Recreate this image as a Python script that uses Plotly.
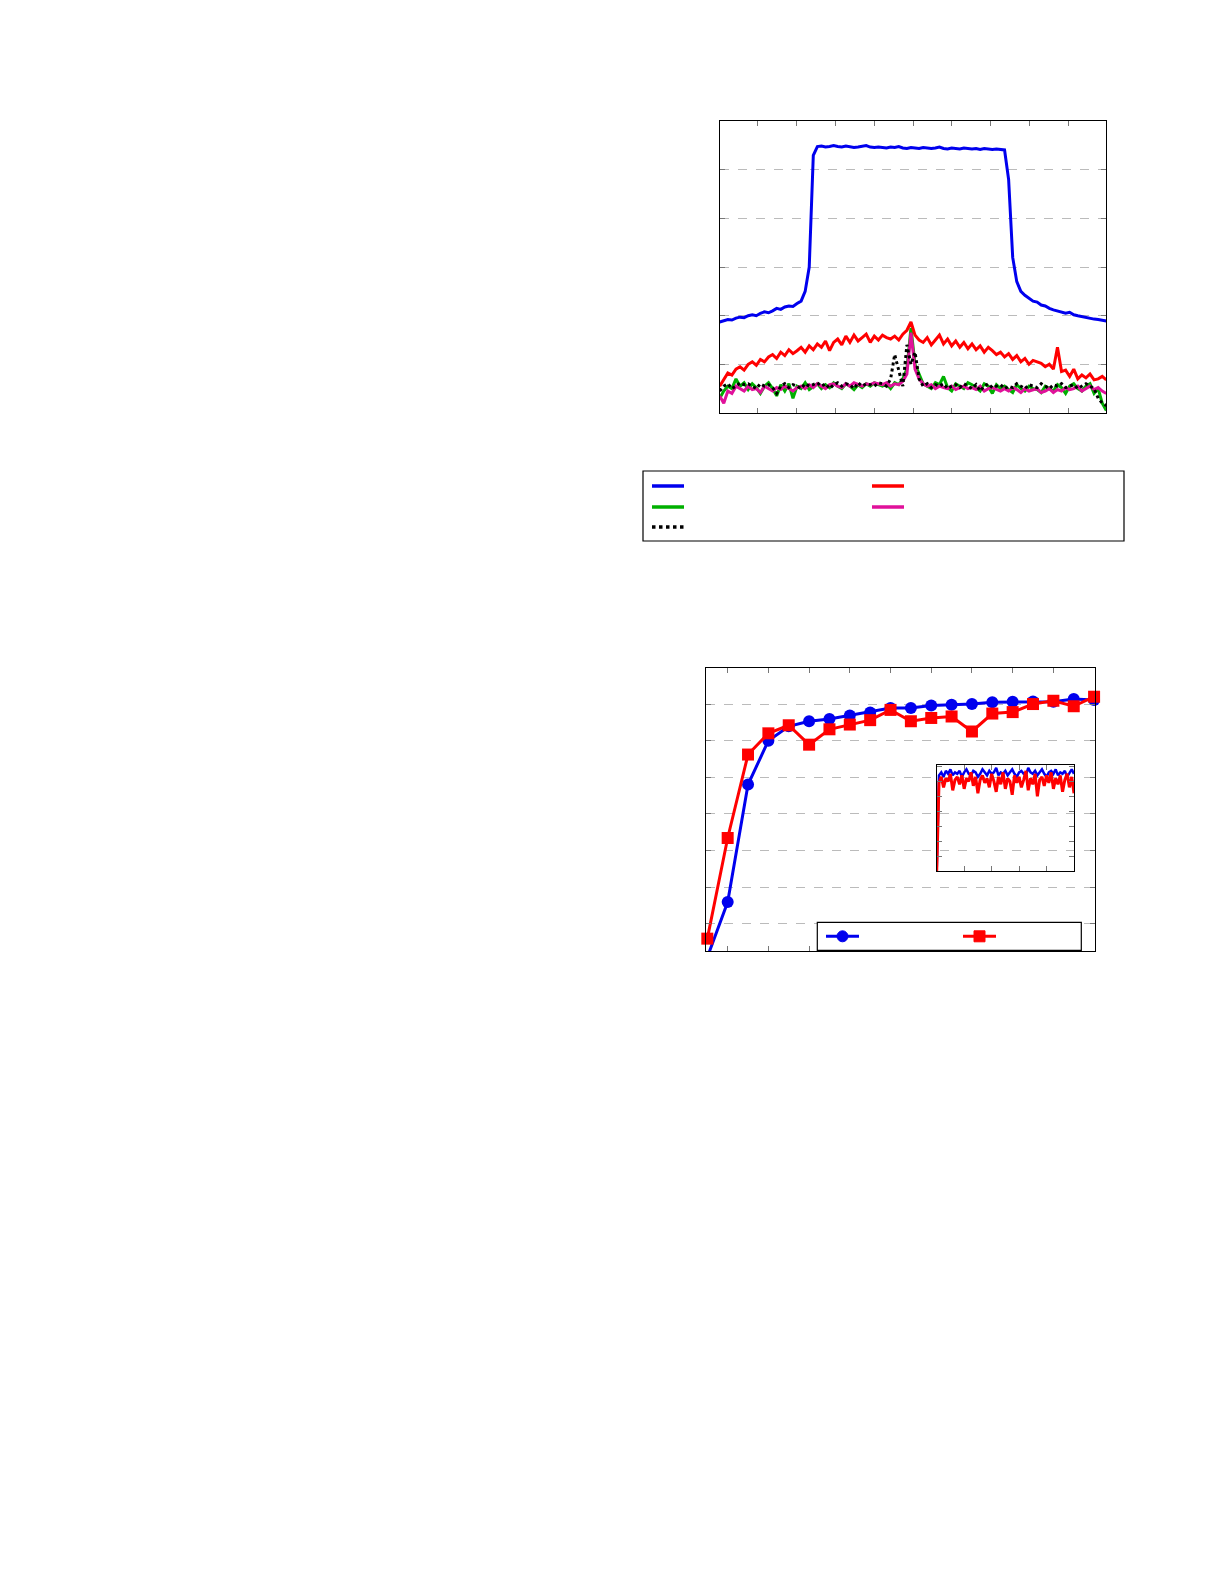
import plotly.graph_objects as go

W, H = 1225, 1585

# ---- top panel: spectrum-like curves (index 0..95) ----
blue = [1.87, 1.9, 1.92, 1.91, 1.95, 1.97, 1.96, 2.0, 2.02, 2.0, 2.05, 2.08, 2.06, 2.1, 2.15, 2.13,
        2.18, 2.2, 2.19, 2.25, 2.3, 2.5, 3.0,
        5.3,
        5.48, 5.49, 5.47, 5.48, 5.5, 5.48, 5.47, 5.49, 5.48, 5.46,
        5.47, 5.48, 5.5, 5.47, 5.46, 5.47, 5.46, 5.45, 5.47, 5.46,
        5.48, 5.45, 5.44, 5.46, 5.45, 5.44, 5.46, 5.45, 5.44, 5.45,
        5.47, 5.44, 5.43, 5.45, 5.44, 5.43, 5.45, 5.44, 5.43, 5.44,
        5.42, 5.44, 5.43, 5.42, 5.43, 5.42, 5.41,
        4.8, 3.2, 2.7, 2.5,
        2.42, 2.35, 2.3, 2.28, 2.22, 2.2, 2.15, 2.12, 2.1, 2.08, 2.05, 2.07, 2.02, 2.0, 1.98,
        1.96, 1.95, 1.93, 1.92, 1.91, 1.89]
red = [0.55, 0.7, 0.82, 0.78, 0.9, 0.95, 0.88, 1.0, 1.05, 0.98,
       1.1, 1.05, 1.15, 1.2, 1.12, 1.25, 1.18, 1.3, 1.22, 1.28,
       1.35, 1.25, 1.38, 1.3, 1.42, 1.35, 1.48, 1.28, 1.45, 1.52,
       1.4, 1.58, 1.45, 1.6, 1.48, 1.55, 1.62, 1.45, 1.58, 1.5,
       1.6, 1.55, 1.52, 1.58, 1.5, 1.62, 1.7, 1.87, 1.6, 1.5,
       1.45, 1.55, 1.4, 1.5, 1.6, 1.42, 1.52, 1.38, 1.48, 1.35,
       1.45, 1.32, 1.42, 1.3, 1.38, 1.25, 1.35, 1.28, 1.2, 1.25,
       1.15, 1.22, 1.1, 1.18, 1.05, 1.12, 1.0, 1.08, 1.05, 1.02,
       0.95, 1.0, 0.9, 1.35, 0.85, 0.88, 0.75, 0.9, 0.7, 0.78,
       0.72, 0.8, 0.68, 0.7, 0.75, 0.68]
green = [0.3, 0.45, 0.55, 0.5, 0.7, 0.55, 0.62, 0.48, 0.6, 0.52,
         0.4, 0.55, 0.62, 0.5, 0.35, 0.58, 0.45, 0.6, 0.3, 0.55,
         0.5, 0.62, 0.48, 0.55, 0.6, 0.5, 0.58, 0.52, 0.62, 0.55,
         0.5, 0.6, 0.55, 0.48, 0.58, 0.52, 0.6, 0.55, 0.62, 0.58,
         0.55, 0.6, 0.5, 0.62, 0.58, 0.7, 0.9, 1.75, 1.0, 0.8,
         0.6, 0.55, 0.5, 0.62, 0.58, 0.75, 0.52, 0.45, 0.6, 0.55,
         0.5, 0.62, 0.58, 0.52, 0.45, 0.6, 0.55, 0.4, 0.58, 0.5,
         0.55, 0.48, 0.42, 0.58, 0.5, 0.45, 0.55, 0.5, 0.48, 0.42,
         0.55, 0.5, 0.45, 0.58, 0.52, 0.4, 0.55, 0.6, 0.5, 0.45,
         0.55, 0.6, 0.4, 0.5, 0.2, 0.05]
pink = [0.35, 0.2, 0.45, 0.4, 0.55, 0.5, 0.45, 0.55, 0.48, 0.5,
        0.42, 0.55, 0.5, 0.45, 0.52, 0.48, 0.55, 0.5, 0.45, 0.52,
        0.55, 0.5, 0.58, 0.52, 0.6, 0.55, 0.5, 0.58, 0.6, 0.55,
        0.52, 0.6, 0.55, 0.62, 0.58, 0.55, 0.6, 0.58, 0.62, 0.6,
        0.58, 0.62, 0.55, 0.6, 0.58, 0.65, 0.8, 1.65, 0.9, 0.7,
        0.6, 0.55, 0.58, 0.5, 0.55, 0.52, 0.5, 0.55, 0.48, 0.52,
        0.55, 0.5, 0.52, 0.48, 0.55, 0.45, 0.5, 0.52, 0.48, 0.45,
        0.5, 0.45, 0.52, 0.48, 0.42, 0.5, 0.45, 0.48, 0.5, 0.42,
        0.45, 0.5, 0.42, 0.48, 0.45, 0.52, 0.48, 0.5, 0.55, 0.45,
        0.5, 0.55, 0.48, 0.52, 0.45, 0.4]
black = [0.45, 0.55, 0.6, 0.5, 0.55, 0.62, 0.58, 0.6, 0.55, 0.5,
         0.6, 0.55, 0.58, 0.52, 0.4, 0.55, 0.6, 0.52, 0.58, 0.55,
         0.5, 0.6, 0.55, 0.58, 0.62, 0.55, 0.6, 0.5, 0.58, 0.62,
         0.55, 0.6, 0.58, 0.5, 0.62, 0.55, 0.6, 0.58, 0.55, 0.62,
         0.6, 0.55, 0.7, 1.2, 0.9, 0.55, 1.4, 1.0, 1.25, 0.7,
         0.55, 0.6, 0.52, 0.58, 0.55, 0.6, 0.5, 0.55, 0.58, 0.52,
         0.6, 0.55, 0.5, 0.58, 0.45, 0.55, 0.6, 0.52, 0.55, 0.58,
         0.5, 0.55, 0.52, 0.6, 0.55, 0.5, 0.58, 0.55, 0.52, 0.6,
         0.55, 0.5, 0.58, 0.55, 0.6, 0.52, 0.55, 0.58, 0.5, 0.55,
         0.6, 0.55, 0.5, 0.3, 0.2, 0.15]
top_xticks = [9.4, 18.9, 28.4, 38.0, 47.5, 57.0, 66.6, 76.1, 85.6]

# ---- bottom panel: two curves with markers ----
steps = list(range(1, 21))
curve_a = [0.08, 1.59, 4.80, 6.0, 6.39, 6.53, 6.59, 6.69, 6.77, 6.89,
           6.89, 6.96, 6.98, 7.0, 7.05, 7.06, 7.07, 7.06, 7.14, 7.11]
curve_b = [0.59, 3.34, 5.62, 6.2, 6.42, 5.89, 6.31, 6.44, 6.56, 6.84,
           6.53, 6.62, 6.66, 6.25, 6.74, 6.78, 7.0, 7.09, 6.94, 7.2]

# ---- inset: noisy traces ----
inset_a = [0, 6.4, 6.6, 6.3, 6.7, 6.5, 6.8, 6.4, 6.6, 6.5,
           6.7, 6.3, 6.6, 6.8, 6.5, 6.4, 6.7, 6.6, 6.3, 6.5,
           6.8, 6.6, 6.4, 6.7, 6.5, 6.6, 6.9, 6.4, 6.6, 6.5,
           6.7, 6.4, 6.6, 6.8, 6.5, 6.3, 6.6, 6.7, 6.5, 6.4,
           6.9, 6.6, 6.5, 6.7, 6.4, 6.6, 6.8, 6.5, 6.3, 6.6,
           6.7, 6.5, 6.8, 6.4, 6.6, 6.5, 6.7, 6.3, 6.6, 6.8, 6.5]
inset_b = [0, 5.9, 6.3, 5.6, 6.2, 6.0, 6.5, 5.4, 6.1, 6.3,
           5.8, 6.4, 5.5, 6.2, 6.0, 6.6, 5.7, 6.3, 5.2, 6.1,
           6.4, 5.9, 6.2, 5.6, 6.5, 6.0, 5.3, 6.3, 5.8, 6.6,
           5.5, 6.2, 6.0, 5.1, 6.4, 5.9, 6.3, 5.6, 6.1, 6.7,
           5.4, 6.2, 5.8, 6.5, 5.0, 6.1, 6.3, 5.7, 6.4, 5.9,
           6.6, 5.5, 6.2, 5.8, 6.4, 5.3, 6.1, 6.5, 5.6, 6.3, 5.2]

BLUE, RED, GREEN, PINK = "#0000ee", "#ff0000", "#00b000", "#e0119a"


def fx(px):
    return px / W


def fy(py):
    return 1 - py / H


fig = go.Figure()
idx = list(range(len(blue)))
for ys, col, dash in [(green, GREEN, "solid"), (pink, PINK, "solid"),
                      (black, "black", "dot"), (red, RED, "solid"), (blue, BLUE, "solid")]:
    fig.add_trace(go.Scatter(x=idx, y=ys, mode="lines", xaxis="x", yaxis="y",
                             line=dict(color=col, width=3, dash=dash), showlegend=False))

fig.add_trace(go.Scatter(x=steps, y=curve_a, mode="lines+markers", xaxis="x2", yaxis="y2",
                         line=dict(color=BLUE, width=3), marker=dict(size=12, color=BLUE),
                         cliponaxis=False, showlegend=False))
fig.add_trace(go.Scatter(x=steps, y=curve_b, mode="lines+markers", xaxis="x2", yaxis="y2",
                         line=dict(color=RED, width=3),
                         marker=dict(size=12, color=RED, symbol="square"),
                         cliponaxis=False, showlegend=False))

ii = list(range(len(inset_a)))
fig.add_trace(go.Scatter(x=ii, y=inset_a, mode="lines", xaxis="x3", yaxis="y3",
                         line=dict(color=BLUE, width=2.5), showlegend=False))
fig.add_trace(go.Scatter(x=ii, y=inset_b, mode="lines", xaxis="x3", yaxis="y3",
                         line=dict(color=RED, width=3), showlegend=False))

ax = dict(showticklabels=False, ticks="inside", mirror="ticks", ticklen=5, tickcolor="#777",
          showline=True, linecolor="black", linewidth=1.2, zeroline=False)
grid = dict(showgrid=True, gridcolor="#bbbbbb", griddash="dash", gridwidth=1)

fig.update_layout(
    width=W, height=H, margin=dict(l=0, r=0, t=0, b=0),
    plot_bgcolor="rgba(0,0,0,0)", paper_bgcolor="white",
    xaxis=dict(**ax, domain=[fx(711.7), fx(1098.3)], range=[0, 95],
               tickvals=top_xticks, showgrid=False),
    yaxis=dict(**ax, **grid, domain=[fy(404.9), fy(113.3)], range=[0, 6],
               tickvals=[1, 2, 3, 4, 5]),
    xaxis2=dict(**ax, domain=[fx(698.3), fx(1086.7)], range=[0.95, 20.03],
                tickvals=[2, 4, 6, 8, 10, 12, 14, 16, 18], showgrid=False, anchor="y2"),
    yaxis2=dict(**ax, **grid, domain=[fy(943.3), fy(660)], range=[0.244, 7.985],
                tickvals=[1, 2, 3, 4, 5, 6, 7], anchor="x2"),
    xaxis3=dict(**ax, domain=[fx(928.7), fx(1066)], range=[0, 60],
                tickvals=[12, 24, 36, 48], showgrid=False, anchor="y3"),
    yaxis3=dict(**ax, domain=[fy(863.3), fy(757.3)], range=[0, 7.07],
                tickvals=[1, 2, 3, 4, 5, 6, 7], showgrid=False, anchor="x3"),
)

shapes = []
# inset background covers the main grid lines
shapes.append(dict(type="rect", xref="paper", yref="paper", layer="between",
                   x0=fx(928.7), x1=fx(1066), y0=fy(863.3), y1=fy(757.3),
                   fillcolor="white", line=dict(width=0)))

# top legend box
shapes.append(dict(type="rect", xref="paper", yref="paper",
                   x0=fx(635), x1=fx(1116), y0=fy(533), y1=fy(463),
                   line=dict(color="black", width=1.2)))
for x0, yy, col, dash in [(644, 478, BLUE, "solid"), (864, 478, RED, "solid"),
                          (644, 499, GREEN, "solid"), (864, 499, PINK, "solid"),
                          (644, 519, "black", "dot")]:
    shapes.append(dict(type="line", xref="paper", yref="paper",
                       x0=fx(x0), x1=fx(x0 + 32), y0=fy(yy), y1=fy(yy),
                       line=dict(color=col, width=3.5, dash=dash)))

# bottom legend box with line + marker samples
shapes.append(dict(type="rect", xref="paper", yref="paper",
                   x0=fx(809.3), x1=fx(1073.3), y0=fy(942.3), y1=fy(914.3),
                   line=dict(color="black", width=1.2), fillcolor="white"))
for x0, col, kind in [(818, BLUE, "circle"), (955, RED, "rect")]:
    shapes.append(dict(type="line", xref="paper", yref="paper",
                       x0=fx(x0), x1=fx(x0 + 33), y0=fy(928.3), y1=fy(928.3),
                       line=dict(color=col, width=3)))
    cx = x0 + 16.5
    shapes.append(dict(type=kind, xref="paper", yref="paper",
                       x0=fx(cx - 5.5), x1=fx(cx + 5.5), y0=fy(928.3 + 5.5), y1=fy(928.3 - 5.5),
                       fillcolor=col, line=dict(color=col, width=1)))
fig.update_layout(shapes=shapes)

fig.write_html("out.html")
